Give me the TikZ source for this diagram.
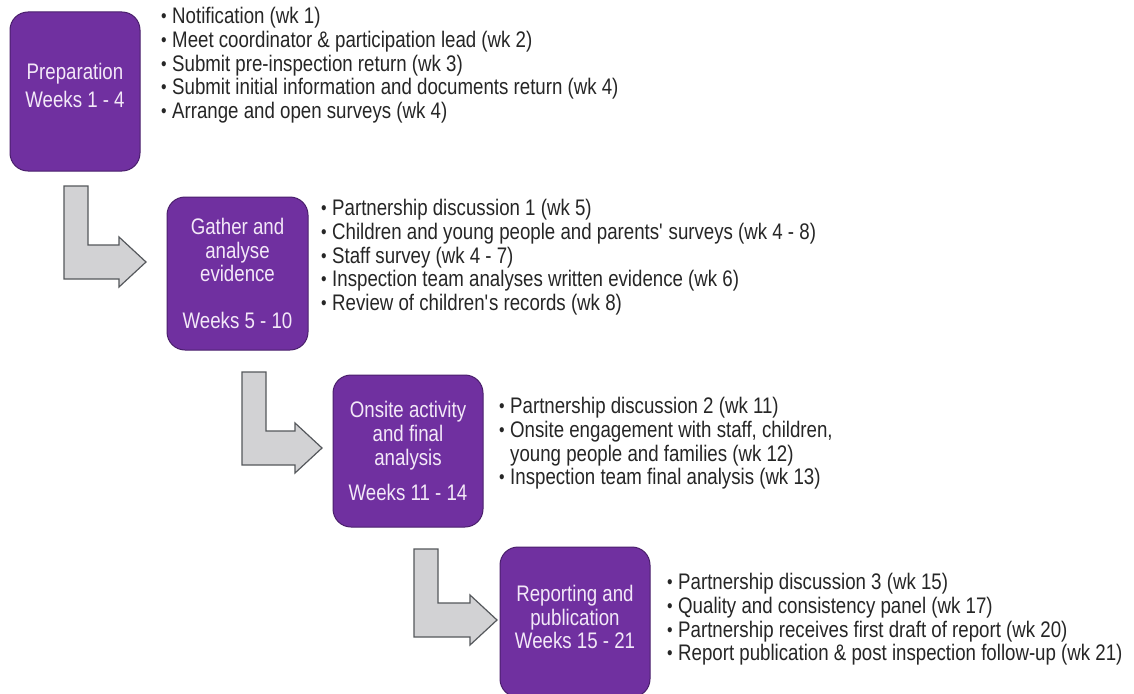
\documentclass[tikz,border=0pt]{standalone}
\usepackage{fontspec}
\setmainfont{Liberation Sans}[FakeStretch=0.83]
\usetikzlibrary{calc}

\definecolor{phasefill}{HTML}{7030A0}
\definecolor{phaseline}{HTML}{4A1F6C}
\definecolor{phasetext}{HTML}{F3E8F8}
\definecolor{arrowfill}{HTML}{D2D2D4}
\definecolor{arrowline}{HTML}{55585C}
\definecolor{listtext}{HTML}{262626}

% bullet with hanging indent
\newcommand\bul{\makebox[12pt][l]{\hspace{1pt}\raisebox{1pt}{\fontsize{19}{19}\selectfont\textbullet}}}
% L-shaped block arrow: #1 top left of the stem, #2 tip
\newcommand\larrow[2]{%
  \draw[larr] let \p1=(#1), \p2=(#2) in
    (\p1) -- (\x1+24pt,\y1) -- (\x1+24pt,\y2+17pt) -- (\x2-27pt,\y2+17pt)
    -- (\x2-27pt,\y2+25pt) -- (\p2) -- (\x2-27pt,\y2-25pt)
    -- (\x2-27pt,\y2-17pt) -- (\x1,\y2-17pt) -- cycle;}

\begin{document}
\begin{tikzpicture}[x=1pt, y=-1pt, font=\fontsize{22.5}{23.8}\selectfont,
    phase/.style={draw=phaseline, fill=phasefill, line width=1pt,
      rounded corners=18pt, text=phasetext, align=center, inner sep=0pt},
    items/.style={anchor=north west, align=left, inner sep=0pt, text=listtext},
    larr/.style={fill=arrowfill, draw=arrowline, line width=1.2pt}]
  \useasboundingbox[fill=white] (0,0) rectangle (1134,693);

  % phases
  \node[phase, minimum width=130pt, minimum height=159pt, text depth=12pt] (prep) at (75,91.5)
    {Preparation\\[4pt]Weeks 1 - 4};
  \node[phase, minimum width=141pt, minimum height=153pt] (gather) at (237.5,273.5)
    {Gather and\\analyse\\evidence\\[23pt]Weeks 5 - 10};
  \node[phase, minimum width=150pt, minimum height=152pt] (onsite) at (408,451)
    {Onsite activity\\and final\\analysis\\[11pt]Weeks 11 - 14};
  \node[phase, minimum width=150pt, minimum height=150pt, text depth=10pt] (report) at (575,622)
    {Reporting and\\publication\\Weeks 15 - 21};

  % arrows between phases
  \coordinate (s1) at (64,186);  \coordinate (t1) at (146,262);
  \coordinate (s2) at (242,372); \coordinate (t2) at (322,448);
  \coordinate (s3) at (414,549); \coordinate (t3) at (497,620);
  \larrow{s1}{t1}
  \larrow{s2}{t2}
  \larrow{s3}{t3}

  % activities
  \node[items] (prepitems) at (160,7) {\bul Notification (wk 1)\\
    \bul Meet coordinator \& participation lead (wk 2)\\
    \bul Submit pre-inspection return (wk 3)\\
    \bul Submit initial information and documents return (wk 4)\\
    \bul Arrange and open surveys (wk 4)};
  \node[items] (gatheritems) at (320,199) {\bul Partnership discussion 1 (wk 5)\\
    \bul Children and young people and parents\textquotesingle\ surveys (wk 4 - 8)\\
    \bul Staff survey (wk 4 - 7)\\
    \bul Inspection team analyses written evidence (wk 6)\\
    \bul Review of children\textquotesingle s records (wk 8)};
  \node[items] (onsiteitems) at (498,397) {\bul Partnership discussion 2 (wk 11)\\
    \bul Onsite engagement with staff, children,\\
    \hspace*{12pt}young people and families (wk 12)\\
    \bul Inspection team final analysis (wk 13)};
  \node[items] (reportitems) at (666,573) {\bul Partnership discussion 3 (wk 15)\\
    \bul Quality and consistency panel (wk 17)\\
    \bul Partnership receives first draft of report (wk 20)\\
    \bul Report publication \& post inspection follow-up (wk 21)};
\end{tikzpicture}
\end{document}
